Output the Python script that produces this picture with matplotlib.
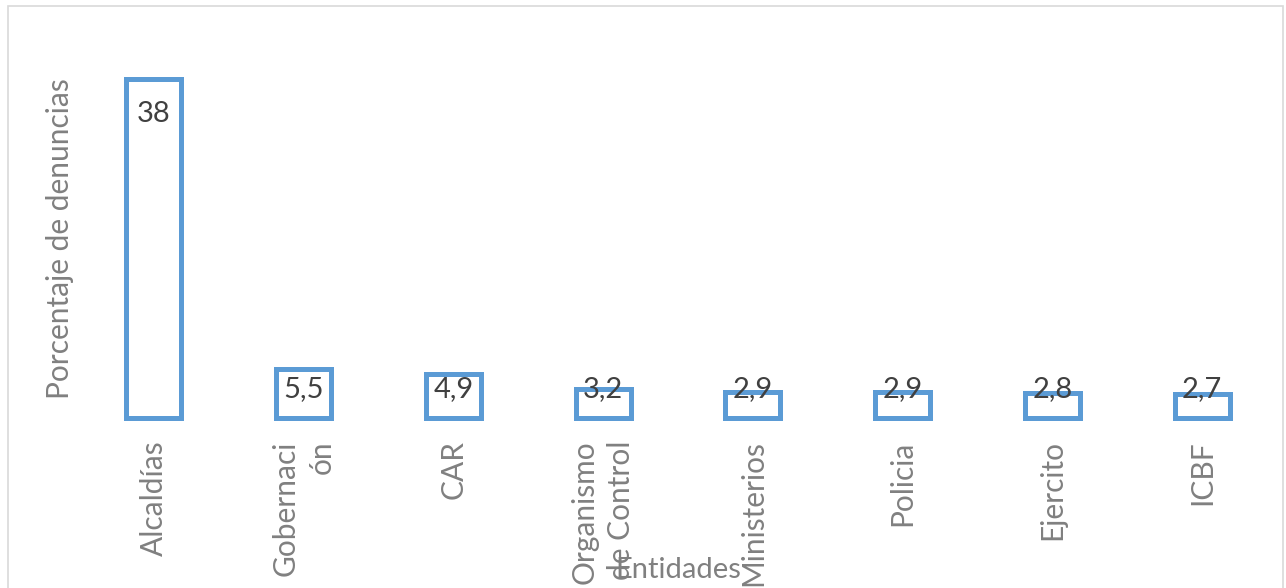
import matplotlib
matplotlib.use("Agg")
import matplotlib.pyplot as plt
from matplotlib.patches import Rectangle

# Denuncias por entidad (porcentaje)
entidades = ["Alcaldías", "Gobernaci\nón", "CAR", "Organismo\nde Control",
             "Ministerios", "Policia", "Ejercito", "ICBF"]
porcentajes = [38, 5.5, 4.9, 3.2, 2.9, 2.9, 2.8, 2.7]
etiquetas = ["38", "5,5", "4,9", "3,2", "2,9", "2,9", "2,8", "2,7"]

BLUE = "#5B9BD5"
GRAY = "#808080"
DARK = "#404040"
FONT = "Lato"

W, H = 1286, 588
fig = plt.figure(figsize=(W / 100, H / 100), dpi=100)
fig.patch.set_facecolor("white")

# thin frame around the chart area
fig.patches.append(Rectangle((8 / W, -0.02), (1283 - 8) / W, 1.02 - 6 / H,
                             transform=fig.transFigure, fill=False,
                             edgecolor="#d9d9d9", linewidth=1.2, zorder=0))

ax = fig.add_axes([79 / W, (H - 418) / H, 1198 / W, 357 / H])
ax.set_xlim(-0.5, len(entidades) - 0.5)
ax.set_ylim(0, 40)

x = list(range(len(entidades)))
bars = ax.bar(x, porcentajes, width=0.367, facecolor="white",
              edgecolor=BLUE, linewidth=3.6, zorder=2)
for b in bars:
    b.set_clip_on(False)

# value labels: inside the top of each bar, at a minimum height for short bars
for xi, v, t in zip(x, porcentajes, etiquetas):
    y = max(v - 3.9, 3.3)
    ax.text(xi, y, t, ha="center", va="center", fontsize=21,
            family=FONT, color=DARK, zorder=3)

for s in ax.spines.values():
    s.set_visible(False)
ax.set_yticks([])
ax.set_xticks(x)
ax.set_xticklabels(entidades, rotation=90, ha="center", va="top",
                   multialignment="right", fontsize=21.5, family=FONT,
                   color=GRAY, linespacing=1.35)
ax.tick_params(axis="x", length=0, pad=16)

fig.text(60 / W, 1 - 239 / H, "Porcentaje de denuncias", rotation=90,
         ha="center", va="center", fontsize=21.5, family=FONT, color=GRAY)
fig.text(678 / W, 1 - 570 / H, "Entidades", ha="center", va="center",
         fontsize=21, family=FONT, color=GRAY)

fig.savefig("out.png", dpi=100, facecolor="white")
